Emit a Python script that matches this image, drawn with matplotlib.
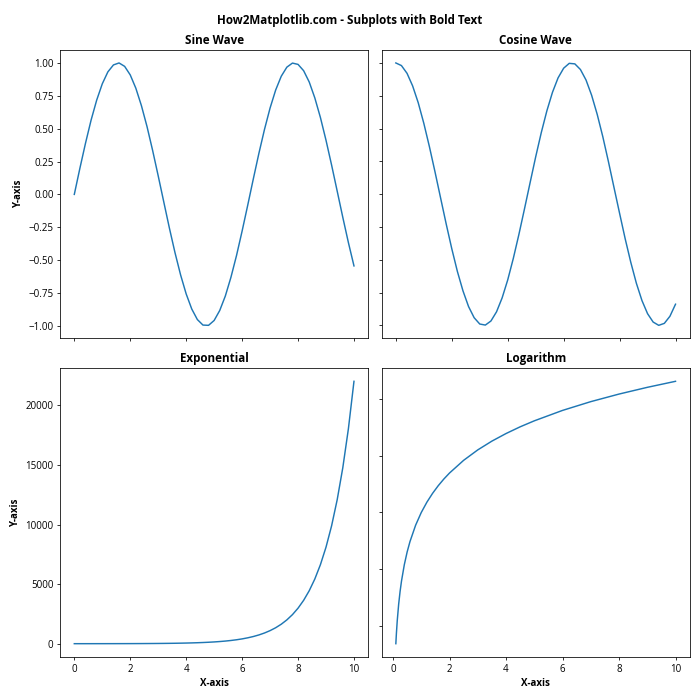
import matplotlib
matplotlib.use("Agg")
import matplotlib.pyplot as plt

plt.rcParams['font.family'] = ['Open Sans', 'DejaVu Sans']

# values
x = [0.0, 0.2, 0.4, 0.6, 0.8, 1.0, 1.2, 1.4, 1.6, 1.8, 2.0, 2.2, 2.4, 2.6, 2.8, 3.0,
     3.2, 3.4, 3.6, 3.8, 4.0, 4.2, 4.4, 4.6, 4.8, 5.0, 5.2, 5.4, 5.6, 5.8, 6.0, 6.2,
     6.4, 6.6, 6.8, 7.0, 7.2, 7.4, 7.6, 7.8, 8.0, 8.2, 8.4, 8.6, 8.8, 9.0, 9.2, 9.4,
     9.6, 9.8, 10.0]

sine = [0.000, 0.199, 0.389, 0.565, 0.717, 0.841, 0.932, 0.985, 1.000, 0.974, 0.909,
        0.808, 0.675, 0.516, 0.335, 0.141, -0.058, -0.256, -0.443, -0.612, -0.757,
        -0.872, -0.952, -0.994, -0.996, -0.959, -0.883, -0.773, -0.631, -0.465, -0.279,
        -0.083, 0.117, 0.312, 0.494, 0.657, 0.794, 0.899, 0.968, 0.999, 0.989, 0.941,
        0.855, 0.734, 0.585, 0.412, 0.223, 0.025, -0.174, -0.366, -0.544]

cosine = [1.000, 0.980, 0.921, 0.825, 0.697, 0.540, 0.362, 0.170, -0.029, -0.227, -0.416,
          -0.589, -0.737, -0.857, -0.942, -0.990, -0.998, -0.967, -0.897, -0.791, -0.654,
          -0.490, -0.307, -0.112, 0.087, 0.284, 0.469, 0.635, 0.776, 0.886, 0.960,
          0.997, 0.993, 0.950, 0.870, 0.754, 0.608, 0.438, 0.249, 0.051, -0.146,
          -0.340, -0.519, -0.679, -0.811, -0.911, -0.975, -1.000, -0.985, -0.931, -0.839]

expo = [1, 1.2, 1.5, 1.8, 2.2, 2.7, 3.3, 4.1, 5.0, 6.0, 7.4, 9.0, 11, 13.5, 16.4, 20,
        24.5, 30, 36.6, 44.7, 54.6, 66.7, 81.5, 99.5, 121.5, 148, 181, 221, 270, 330,
        403, 493, 602, 735, 898, 1097, 1339, 1636, 1998, 2440, 2981, 3641, 4447, 5432,
        6634, 8103, 9897, 12088, 14765, 18034, 22026]

x_log = [0.1, 0.12, 0.15, 0.2, 0.25, 0.3, 0.4, 0.5, 0.6, 0.8, 1, 1.2, 1.4, 1.6, 1.8,
         2, 2.5, 3, 3.5, 4, 4.5, 5, 6, 7, 8, 9, 10]
logv = [-2.303, -2.120, -1.897, -1.609, -1.386, -1.204, -0.916, -0.693, -0.511, -0.223,
        0.0, 0.182, 0.336, 0.470, 0.588, 0.693, 0.916, 1.099, 1.253, 1.386, 1.504,
        1.609, 1.792, 1.946, 2.079, 2.197, 2.303]

fig, axs = plt.subplots(2, 2, figsize=(10, 10), dpi=70)
fig.suptitle('How2Matplotlib.com - Subplots with Bold Text', fontweight='bold')

axs[0, 0].plot(x, sine)
axs[0, 0].set_title('Sine Wave', fontweight='bold')
axs[0, 1].plot(x, cosine)
axs[0, 1].set_title('Cosine Wave', fontweight='bold')
axs[1, 0].plot(x, expo)
axs[1, 0].set_title('Exponential', fontweight='bold')
axs[1, 1].plot(x_log, logv)
axs[1, 1].set_title('Logarithm', fontweight='bold')

for ax in axs.flat:
    ax.set_xlabel('X-axis', fontweight='bold')
    ax.set_ylabel('Y-axis', fontweight='bold')
    ax.label_outer()

plt.tight_layout()
plt.savefig('out.png')
